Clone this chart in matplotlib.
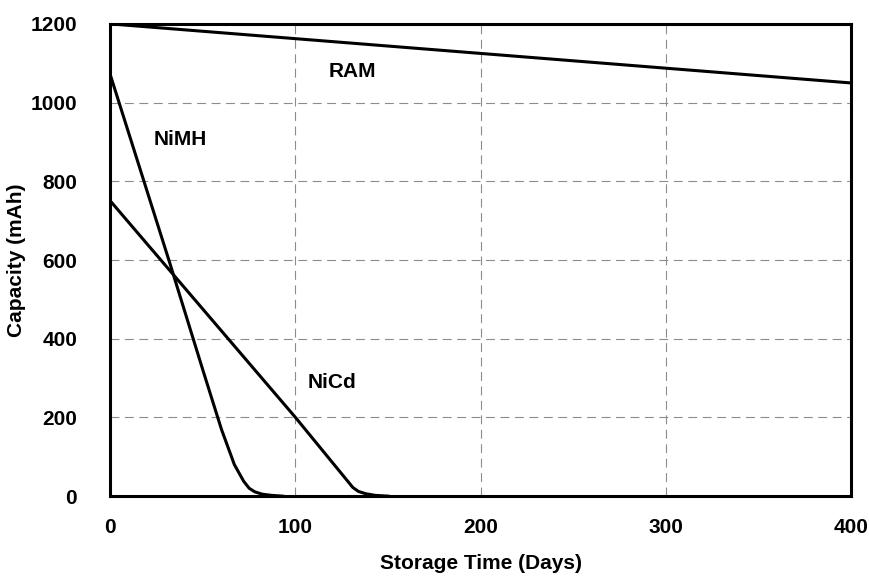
import matplotlib
matplotlib.use("Agg")
import matplotlib.pyplot as plt

plt.rcParams['font.family'] = ['Liberation Sans', 'DejaVu Sans']

# storage time (days) vs remaining capacity (mAh)
ram_days = [0, 400]
ram_cap = [1200, 1050]

nimh_days = [0, 32, 50, 60, 67, 72, 75, 78, 82, 87, 93]
nimh_cap = [1070, 594, 320, 170, 80, 38, 20, 11, 5, 2, 0]

nicd_days = [0, 100, 127, 131, 134, 138, 143, 150]
nicd_cap = [750, 200, 45, 22, 12, 6, 2, 0]

labels = ["RAM", "NiMH", "NiCd"]
label_pos = [(131, 1078), (38, 905), (120, 288)]

fig = plt.figure(figsize=(8.69, 5.83), dpi=100)
ax = fig.add_axes([0.127, 0.149, 0.852, 0.81])

ax.plot(ram_days, ram_cap, color="black", lw=2.2)
ax.plot(nimh_days, nimh_cap, color="black", lw=2.2)
ax.plot(nicd_days, nicd_cap, color="black", lw=2.2)

for txt, (x, y) in zip(labels, label_pos):
    ax.text(x, y, txt, fontsize=15, fontweight="bold", ha="center", va="center")

ax.set_xlim(0, 400)
ax.set_ylim(0, 1200)
ax.set_xticks([0, 100, 200, 300, 400])
ax.set_yticks([0, 200, 400, 600, 800, 1000, 1200])
ax.tick_params(length=0, labelsize=15)
ax.tick_params(axis="y", pad=24)
ax.tick_params(axis="x", pad=16)
for lab in ax.get_xticklabels() + ax.get_yticklabels():
    lab.set_fontweight("bold")

ax.grid(True, color="0.55", linestyle=(0, (8, 5)), lw=0.8)
for s in ax.spines.values():
    s.set_linewidth(2.2)

ax.set_xlabel("Storage Time (Days)", fontsize=15, fontweight="bold", labelpad=12)
ax.set_ylabel("Capacity (mAh)", fontsize=15, fontweight="bold", labelpad=3)

fig.savefig("out.png", dpi=100)
